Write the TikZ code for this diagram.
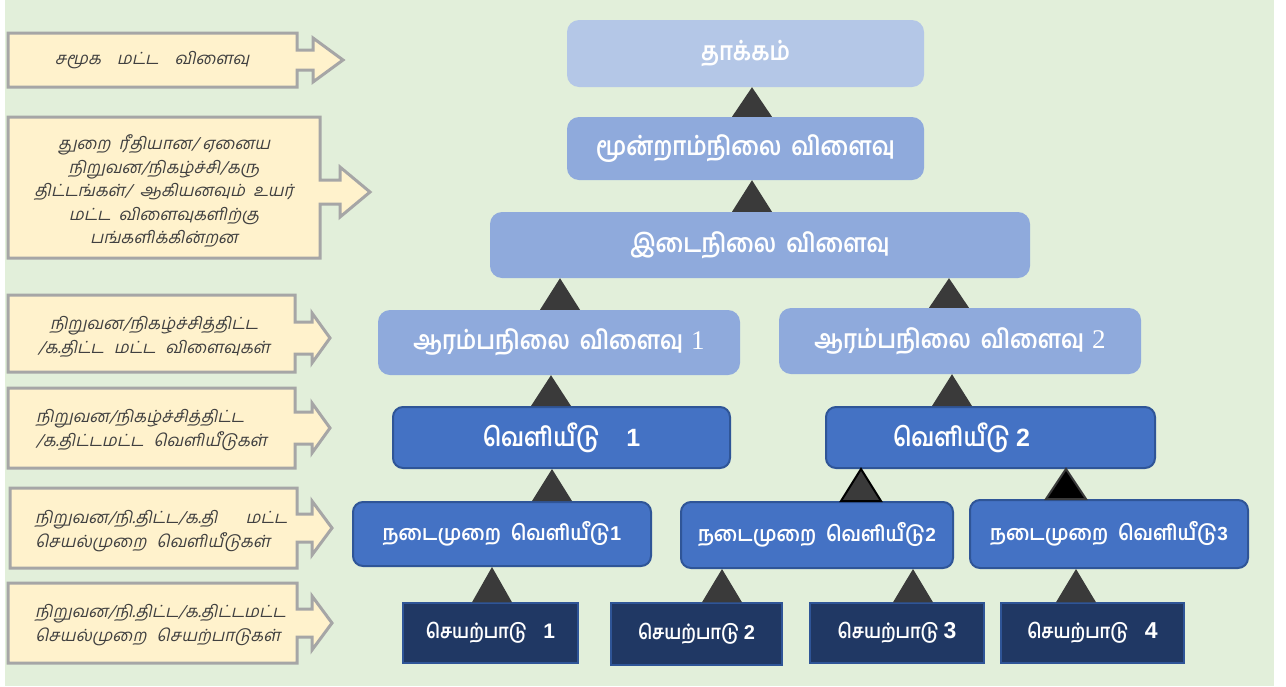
\documentclass[tikz,border=0pt]{standalone}
\usepackage{fontspec}
\usetikzlibrary{calc}
\newfontfamily\tam[Script=Tamil,FakeStretch=0.86]{Hind Madurai}
\newfontfamily\tamp[Script=Tamil,FakeStretch=0.9]{Hind Madurai}
\newfontfamily\tamit[Script=Tamil,FakeSlant=0.22]{Hind Madurai}
\newfontfamily\serdig{Liberation Serif}
\newfontfamily\sansdig{Liberation Sans}
\definecolor{bgc}{HTML}{E2EFDA}
\definecolor{cream}{HTML}{FFF2CC}
\definecolor{greyline}{HTML}{A6A6A6}
\definecolor{lightblue}{HTML}{B4C7E7}
\definecolor{midblue}{HTML}{8FAADC}
\definecolor{outblue}{HTML}{4472C4}
\definecolor{outline}{HTML}{2F5597}
\definecolor{navy}{HTML}{203864}
\definecolor{tricol}{HTML}{3A3A3A}
\definecolor{lefttext}{HTML}{404040}
\tikzset{
  box/.style={inner sep=0pt, text=white, align=center},
  topbox/.style={box, fill=lightblue, rounded corners=12pt, font=\tam\bfseries\fontsize{26}{28}\selectfont},
  midbox/.style={box, fill=midblue, rounded corners=12pt, font=\tam\bfseries\fontsize{26}{28}\selectfont},
  outbox/.style={box, fill=outblue, draw=outline, line width=2pt, rounded corners=10pt, font=\tam\bfseries\fontsize{26}{28}\selectfont},
  procbox/.style={box, fill=outblue, draw=outline, line width=2pt, rounded corners=10pt, font=\tamp\bfseries\fontsize{21}{24}\selectfont},
  actbox/.style={box, fill=navy, draw=outline, line width=1.5pt, font=\tam\bfseries\fontsize{20}{22}\selectfont},
  callout/.style={fill=cream, draw=greyline, line width=3pt, line join=miter},
  calltext/.style={inner sep=0pt, text=lefttext, font=\tamit\fontsize{16.8}{23.5}\selectfont},
  tri/.style={fill=tricol},
}
\newcommand\gap{\hspace{10pt}}
\newcommand\dig[2]{{\sansdig\bfseries\fontsize{#1}{#1}\selectfont #2}}
% \uptri[style]{x}{lower}{upper}
\newcommand\uptri[4][tri]{%
  \path let \p1=(#3.north), \p2=(#4.south) in
    [#1] ({#2pt-20pt},\y1) -- ({#2pt+20pt},\y1) -- ({#2pt},\y2) -- cycle;}
% \callbox{x0}{y0}{x1}{y1}{ym}{shaft half}{head x}{head half}{tip x}
\newcommand\callbox[9]{%
  \draw[callout] (#1,#2) -- (#3,#2) -- (#3,#5-#6) -- (#7,#5-#6) -- (#7,#5-#8)
    -- (#9,#5) -- (#7,#5+#8) -- (#7,#5+#6) -- (#3,#5+#6) -- (#3,#4) -- (#1,#4) -- cycle;}
\begin{document}
\begin{tikzpicture}[x=1pt,y=-1pt]
\useasboundingbox (0,0) rectangle (1286,686);
\fill[white] (0,0) rectangle (1286,686);
\fill[bgc] (5,0) rectangle (1274,686);

% left callouts
\callbox{8}{33}{297}{87}{60}{10}{313}{22}{343}
\node[calltext] (l1) at (152,60) {சமூக\hspace{16pt}மட்ட\hspace{16pt}விளைவு};
\callbox{8}{117}{320}{258}{192}{12}{340}{25}{370}
\node[calltext, align=center] (l2) at (164,191) {துறை\ \ ரீதியான/ ஏனைய\\நிறுவன/நிகழ்ச்சி/கரு\\திட்டங்கள்/\ \ ஆகியனவும்\ \ உயர்\\மட்ட\ \ விளைவுகளிற்கு\\பங்களிக்கின்றன};
\callbox{8}{295}{295}{372}{338}{16}{312}{25}{330}
\node[calltext, align=center] (l3) at (154,337) {நிறுவன/நிகழ்ச்சித்திட்ட\\/க.திட்ட\gap மட்ட\gap விளைவுகள்};
\callbox{8}{388}{295}{468}{428}{16}{312}{25}{330}
\node[calltext, align=left, anchor=west] (l4) at (36,430) {நிறுவன/நிகழ்ச்சித்திட்ட\\/க.திட்டமட்ட\gap வெளியீடுகள்};
\callbox{10}{488}{297}{568}{528}{14}{312}{27}{332}
\node[calltext, align=left, anchor=west] (l5) at (35,531) {நிறுவன/நி.திட்ட/க.தி\hspace{28pt}மட்ட\\செயல்முறை\gap வெளியீடுகள்};
\callbox{8}{583}{297}{663}{623}{14}{312}{27}{332}
\node[calltext, align=left, anchor=west] (l6) at (35,625) {நிறுவன/நி.திட்ட/க.திட்டமட்ட\\செயல்முறை\gap செயற்பாடுகள்};

% hierarchy boxes
\node[topbox, minimum width=357pt, minimum height=67pt] (imp) at (745.5,53.5) {தாக்கம்};
\node[midbox, minimum width=357pt, minimum height=63pt] (tert) at (745.5,148.5) {மூன்றாம்நிலை\gap விளைவு};
\node[midbox, minimum width=540pt, minimum height=66pt] (inter) at (760,245) {இடைநிலை\gap விளைவு};
\node[midbox, minimum width=362pt, minimum height=65pt] (init1) at (559,342.5) {ஆரம்பநிலை\gap விளைவு\hspace{8pt}{\serdig\mdseries\fontsize{27}{28}\selectfont 1}};
\node[midbox, minimum width=362pt, minimum height=66pt] (init2) at (960,341) {ஆரம்பநிலை\gap விளைவு\hspace{8pt}{\serdig\mdseries\fontsize{27}{28}\selectfont 2}};
\node[outbox, minimum width=337pt, minimum height=61pt] (out1) at (561.5,437.5) {வெளியீடு\hspace{26pt}\dig{25}{1}};
\node[outbox, minimum width=329pt, minimum height=61pt] (out2) at (990.5,437.5) {\hspace{-58pt}வெளியீடு \dig{25}{2}};
\node[procbox, minimum width=298pt, minimum height=64pt] (proc1) at (502,534) {நடைமுறை\gap வெளியீடு\dig{20}{1}};
\node[procbox, minimum width=272pt, minimum height=66pt] (proc2) at (817,535) {\raisebox{6pt}{நடைமுறை\gap வெளியீடு\dig{19}{2}}};
\node[procbox, minimum width=278pt, minimum height=68pt] (proc3) at (1109,534) {\raisebox{6pt}{நடைமுறை\gap வெளியீடு\dig{19}{3}}};
\node[actbox, minimum width=175pt, minimum height=60pt] (act1) at (490.5,633) {செயற்பாடு\hspace{16pt}\dig{21}{1}};
\node[actbox, minimum width=171pt, minimum height=62pt] (act2) at (696.5,634) {\raisebox{4pt}{செயற்பாடு \dig{20}{2}}};
\node[actbox, minimum width=174pt, minimum height=60pt] (act3) at (897,633) {\raisebox{-2pt}{செயற்பாடு \dig{23}{3}}};
\node[actbox, minimum width=183pt, minimum height=60pt] (act4) at (1092.5,633) {\raisebox{-2pt}{செயற்பாடு\hspace{16pt}\dig{23}{4}}};

% connector triangles
\uptri{752}{tert}{imp}
\uptri{752}{inter}{tert}
\uptri{560}{init1}{inter}
\uptri{949}{init2}{inter}
\uptri{551}{out1}{init1}
\uptri{952}{out2}{init2}
\uptri{552}{proc1}{out1}
\uptri[fill=tricol, draw=black, line width=2pt, line join=miter]{861}{proc2}{out2}
\uptri[fill=black, draw=tricol, line width=2pt, line join=miter]{1066}{proc3}{out2}
\uptri{492}{act1}{proc1}
\uptri{722}{act2}{proc2}
\uptri{913}{act3}{proc2}
\uptri{1076}{act4}{proc3}
\end{tikzpicture}
\end{document}
